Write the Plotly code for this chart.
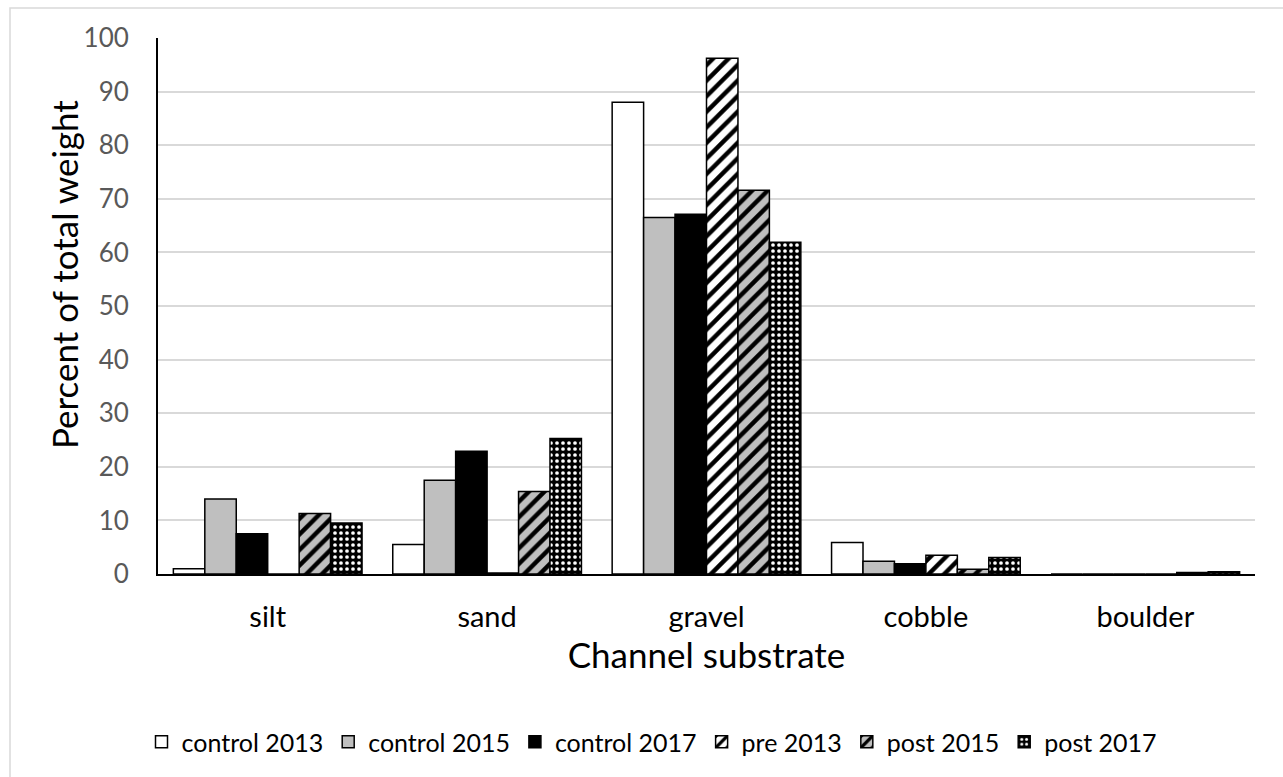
import plotly.graph_objects as go

# Substrate size classes on the x axis
categories = ["silt", "sand", "gravel", "cobble", "boulder"]

# Percent of total sample weight per substrate class
control_2013 = [1.0, 5.5, 88.0, 5.9, 0.0]
control_2015 = [14.0, 17.5, 66.5, 2.4, 0.0]
control_2017 = [7.5, 22.9, 67.1, 1.9, 0.0]
pre_2013 = [0.0, 0.2, 96.2, 3.5, 0.0]
post_2015 = [11.3, 15.4, 71.6, 0.9, 0.3]
post_2017 = [9.5, 25.3, 61.9, 3.1, 0.4]

y_ticks = list(range(0, 101, 10))

FONT = "Lato"
W, H = 1283, 777
L, R, T, B = 158, 28, 38, 203

series = [
    ("control 2013", control_2013, dict(color="white")),
    ("control 2015", control_2015, dict(color="#bfbfbf")),
    ("control 2017", control_2017, dict(color="black")),
    ("pre 2013", pre_2013,
     dict(color="white", pattern=dict(shape="/", fgcolor="black", bgcolor="white",
                                      size=11, solidity=0.4, fillmode="replace"))),
    ("post 2015", post_2015,
     dict(color="#bfbfbf", pattern=dict(shape="/", fgcolor="black", bgcolor="#bfbfbf",
                                        size=11, solidity=0.4, fillmode="replace"))),
    ("post 2017", post_2017,
     dict(color="black", pattern=dict(shape=".", fgcolor="white", bgcolor="black",
                                      size=6, solidity=0.3, fillmode="replace"))),
]

fig = go.Figure()
for name, vals, marker in series:
    m = dict(marker)
    m["line"] = dict(color="black", width=1.5)
    fig.add_trace(go.Bar(x=categories, y=vals, name=name, marker=m))

pw = W - L - R
ph = H - T - B

def px_x(p):
    return (p - L) / pw

def px_y(p):
    return (H - B - p) / ph

fig.update_layout(
    width=W, height=H,
    margin=dict(l=L, r=R, t=T, b=B, autoexpand=False),
    paper_bgcolor="white", plot_bgcolor="white",
    barmode="group", bargap=0.14, bargroupgap=0.0,
    font=dict(family=FONT, color="black", size=25),
    showlegend=True,
    legend=dict(orientation="h", x=px_x(652), xanchor="center",
                y=px_y(742), yanchor="middle",
                font=dict(family=FONT, size=25, color="black"),
                itemwidth=30, bgcolor="rgba(0,0,0,0)"),
    xaxis=dict(
        showline=True, linecolor="black", linewidth=2,
        ticks="", tickfont=dict(family=FONT, size=29, color="black"),
        ticklabelstandoff=16,
        title=dict(text="Channel substrate", font=dict(family=FONT, size=35, color="black"),
                   standoff=10),
    ),
    yaxis=dict(
        range=[0, 100], tickvals=y_ticks,
        showgrid=True, gridcolor="#d9d9d9", gridwidth=1.5,
        showline=True, linecolor="black", linewidth=2, zeroline=False,
        ticks="", tickfont=dict(family=FONT, size=26, color="#595959"),
        ticklabelstandoff=22,
    ),
    annotations=[dict(text="Percent of total weight", textangle=-90,
                      xref="paper", yref="paper", x=px_x(64), y=px_y(275),
                      xanchor="center", yanchor="middle", showarrow=False,
                      font=dict(family=FONT, size=35, color="black"))],
    shapes=[dict(type="rect", xref="paper", yref="paper",
                 x0=px_x(10), x1=px_x(1300), y0=px_y(800), y1=px_y(8),
                 line=dict(color="#d9d9d9", width=1.5), fillcolor="rgba(0,0,0,0)",
                 layer="below")],
)

fig.write_html("out.html")
